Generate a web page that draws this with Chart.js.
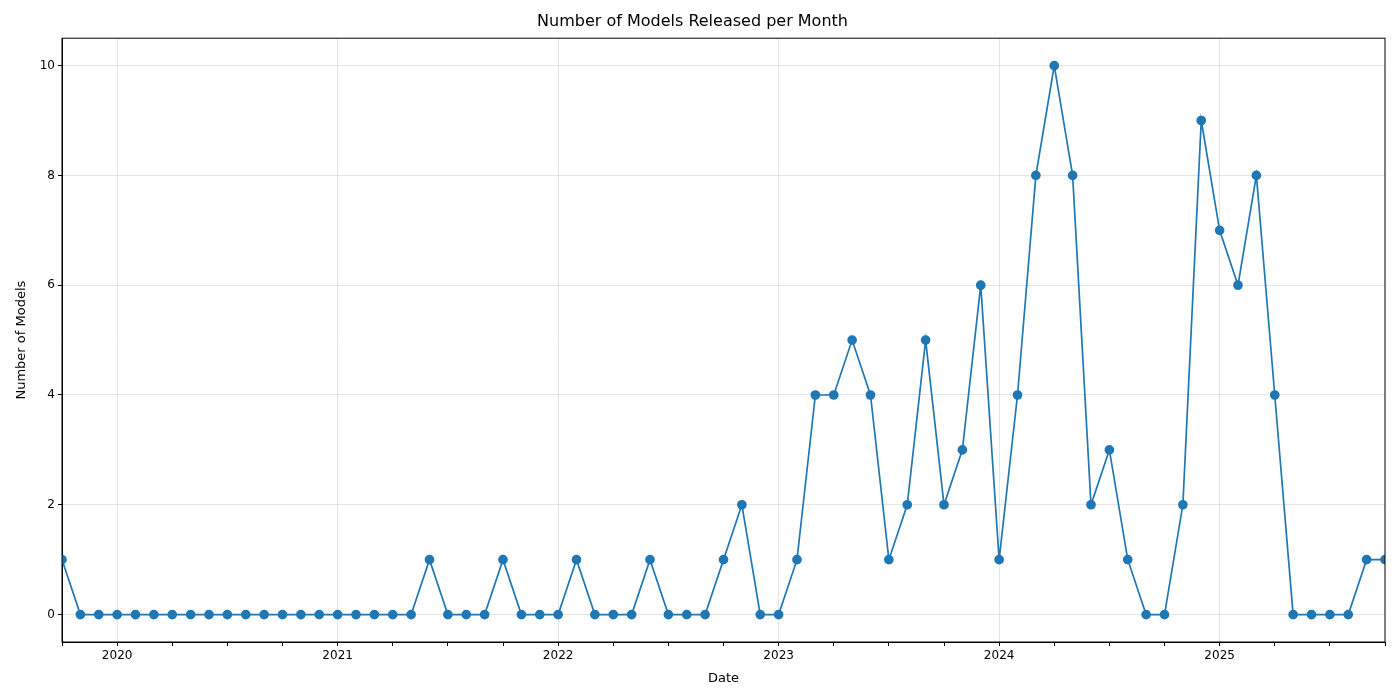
<!DOCTYPE html>
<html><head><meta charset="utf-8">
<script src="https://cdn.jsdelivr.net/npm/chart.js@4/dist/chart.umd.min.js"></script>
<style>html,body{margin:0;padding:0;background:#fff}canvas{display:block}</style>
</head><body>
<canvas id="c" width="1400" height="700"></canvas>
<script>
const startYear = 2019, startMonth = 10;
const counts = [1,0,0,
 0,0,0,0,0,0,0,0,0,0,0,0,
 0,0,0,0,0,1,0,0,0,1,0,0,
 0,1,0,0,0,1,0,0,0,1,2,0,
 0,1,4,4,5,4,1,2,5,2,3,6,
 1,4,8,10,8,2,3,1,0,0,2,9,
 7,6,8,4,0,0,0,0,1,1];
const yearLabels = ['2020','2021','2022','2023','2024','2025'];
const yTicks = [0,2,4,6,8,10];
const pts = counts.map((v,i)=>({x:i,y:v}));
const yearIdx = i => (i + (startMonth-1)) % 12 === 0;
const font = {family:'DejaVu Sans', size:12};
new Chart(document.getElementById('c'), {
  type:'line',
  data:{datasets:[{data:pts, borderColor:'#1f77b4', backgroundColor:'#1f77b4', borderWidth:1.7, pointRadius:4, pointHoverRadius:4, tension:0}]},
  options:{
    responsive:false, animation:false,
    layout:{padding:{top:0,right:15,bottom:10,left:0}},
    plugins:{legend:{display:false}, tooltip:{enabled:false},
      title:{display:true, text:'Number of Models Released per Month', color:'#000', font:{family:'DejaVu Sans', size:16, weight:'normal'}, padding:{top:12,bottom:7}}},
    scales:{
      x:{type:'linear', min:0, max:counts.length-1,
        afterBuildTicks:a=>{a.ticks=[];for(let i=0;i<counts.length;i++){if((i+(startMonth-1))%3===0)a.ticks.push({value:i});}},
        ticks:{autoSkip:false, maxRotation:0, color:'#000', font, callback:(v)=>{if(!yearIdx(v))return ''; const k=(v+(startMonth-1))/12 - 1; return yearLabels[k]??'';}},
        grid:{color:c=>yearIdx(c.tick.value)?'rgba(0,0,0,0.1)':'rgba(0,0,0,0)', tickColor:'#000', tickLength:4},
        border:{color:'#000'},
        title:{display:true, text:'Date', color:'#000', font:{family:'DejaVu Sans', size:13}}},
      y:{min:-0.5, max:10.5,
        afterBuildTicks:a=>{a.ticks=yTicks.map(v=>({value:v}));},
        afterFit:a=>{a.width=62;},
        ticks:{color:'#000', font},
        grid:{color:'rgba(0,0,0,0.1)', tickColor:'#000', tickLength:4},
        border:{color:'#000'},
        title:{display:true, text:'Number of Models', color:'#000', font:{family:'DejaVu Sans', size:13}, padding:{top:14,bottom:0}}}
    }
  },
  plugins:[{id:'frame',afterDraw(ch){const a=ch.chartArea,x=ch.ctx;x.save();x.strokeStyle='#000';x.lineWidth=1;x.strokeRect(a.left,a.top,a.right-a.left,a.bottom-a.top);x.restore();}}]
});
</script>
</body></html>
